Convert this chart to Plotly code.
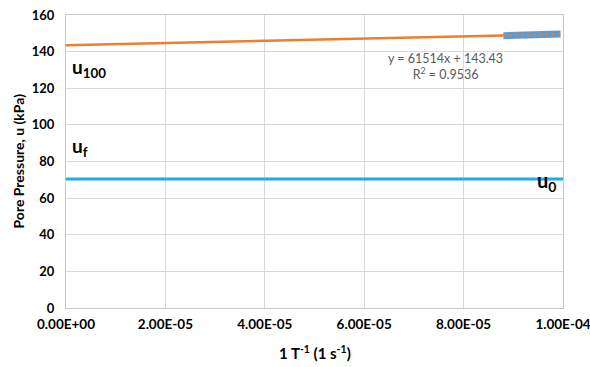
import plotly.graph_objects as go

# Measured pore pressure at late times (1/T axis)
inv_t = [8.80e-05, 8.95e-05, 9.10e-05, 9.25e-05, 9.40e-05, 9.55e-05, 9.70e-05, 9.85e-05, 9.95e-05]
pore_u = [148.7, 148.9, 149.0, 149.1, 149.2, 149.3, 149.4, 149.5, 149.6]

# Linear trendline of the late-time data
slope = 61514
intercept = 143.43
r_squared = 0.9536

# Initial pore pressure u0
u0_value = 70.5
x_range = [0.0, 1.0e-04]

x_ticks = [0.0, 2.0e-05, 4.0e-05, 6.0e-05, 8.0e-05, 1.0e-04]
x_tick_text = ["0.00E+00", "2.00E-05", "4.00E-05", "6.00E-05", "8.00E-05", "1.00E-04"]
y_ticks = [0, 20, 40, 60, 80, 100, 120, 140, 160]

FONT = "Lato, 'Open Sans', sans-serif"
ORANGE = "#ED7D31"
BLUE = "#5B9BD5"
CYAN = "#1AADE4"

fig = go.Figure()

# u0 horizontal line
fig.add_trace(go.Scatter(x=x_range, y=[u0_value, u0_value], mode="lines",
                         line=dict(color=CYAN, width=3), hoverinfo="skip"))

# trendline extended back to 1/T = 0
trend_back_x = [0.0, inv_t[0]]
fig.add_trace(go.Scatter(x=trend_back_x, y=[slope * v + intercept for v in trend_back_x],
                         mode="lines", line=dict(color=ORANGE, width=2.5), hoverinfo="skip"))

# measured data (thick line)
fig.add_trace(go.Scatter(x=inv_t, y=pore_u, mode="lines",
                         line=dict(color=BLUE, width=7), hoverinfo="skip"))

# trendline over the data range (dotted)
trend_x = [inv_t[0], inv_t[-1]]
fig.add_trace(go.Scatter(x=trend_x, y=[slope * v + intercept for v in trend_x],
                         mode="lines", line=dict(color=ORANGE, width=2, dash="dot"),
                         hoverinfo="skip"))

annotations = [
    # trendline equation
    dict(x=7.63e-05, y=132, xref="x", yref="y", showarrow=False,
         text=f"y = {slope}x + {intercept}<br>R<sup>2</sup> = {r_squared}",
         font=dict(family=FONT, size=12.5, color="#595959"), align="center"),
    # pressure labels
    dict(x=0.0, y=131, xref="x", yref="y", xanchor="left", xshift=4, showarrow=False,
         text="<b>u<sub>100</sub></b>", font=dict(family=FONT, size=19, color="black")),
    dict(x=0.0, y=88, xref="x", yref="y", xanchor="left", xshift=4, showarrow=False,
         text="<b>u<sub>f</sub></b>", font=dict(family=FONT, size=19, color="black")),
    dict(x=1.0e-04, y=69, xref="x", yref="y", xanchor="right", xshift=-5, showarrow=False,
         text="<b>u<sub>0</sub></b>", font=dict(family=FONT, size=20, color="black")),
    # axis titles
    dict(x=0.5, y=0, xref="paper", yref="paper", yanchor="middle", yshift=-44,
         showarrow=False, text="<b>1 T<sup>-1</sup> (1 s<sup>-1</sup>)</b>",
         font=dict(family=FONT, size=15, color="black")),
    dict(x=0, y=0.5, xref="paper", yref="paper", xanchor="center", xshift=-48,
         showarrow=False, textangle=-90, text="<b>Pore Pressure, u (kPa)</b>",
         font=dict(family=FONT, size=14, color="black")),
]

fig.update_layout(
    width=590, height=367,
    margin=dict(l=66, r=27, t=15, b=59, autoexpand=False),
    paper_bgcolor="white", plot_bgcolor="white",
    showlegend=False,
    font=dict(family=FONT, color="black"),
    annotations=annotations,
    xaxis=dict(range=x_range, tickvals=x_ticks, ticktext=x_tick_text,
               showgrid=True, gridcolor="#D9D9D9", gridwidth=1,
               showline=True, mirror=True, linecolor="#C8C8C8", zeroline=False,
               ticks="", automargin=False, ticklabelstandoff=4,
               ticklabeloverflow="allow",
               tickfont=dict(family=FONT, size=13.5, color="black", weight="bold")),
    yaxis=dict(range=[0, 160], tickvals=y_ticks,
               showgrid=True, gridcolor="#D9D9D9", gridwidth=1,
               showline=True, mirror=True, linecolor="#C8C8C8", zeroline=False,
               ticks="", automargin=False, ticklabelstandoff=8,
               ticklabeloverflow="allow",
               tickfont=dict(family=FONT, size=13, color="black", weight="bold")),
)

fig.write_html("out.html")
